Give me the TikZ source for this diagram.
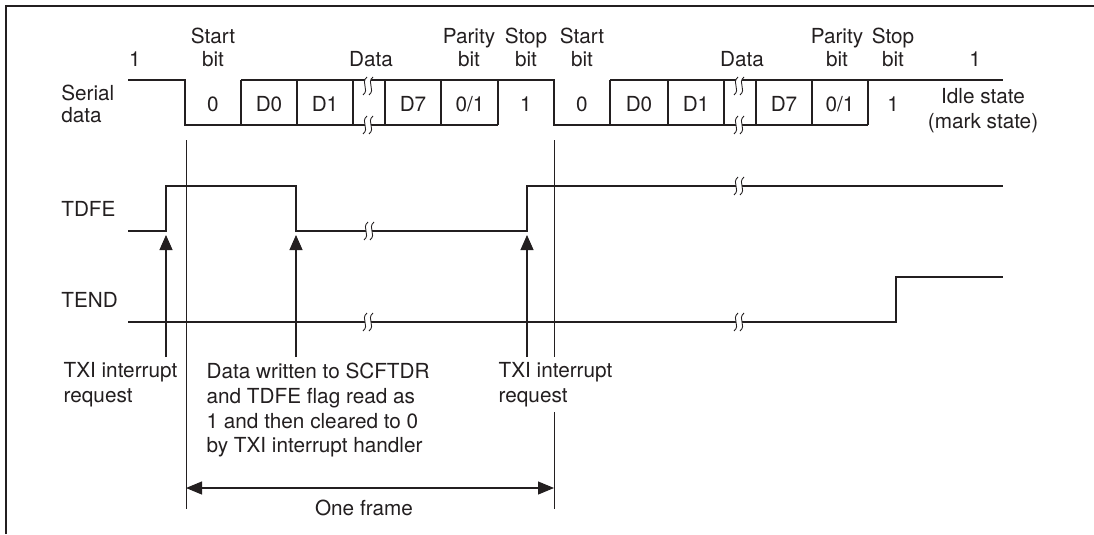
\documentclass[tikz,border=0pt]{standalone}
\usepackage{fontspec}
\setmainfont{TeX Gyre Heros}
\usepackage{tikz}
\usetikzlibrary{arrows.meta,positioning}
\usepackage{xcolor}
\definecolor{cInk}{RGB}{35,31,32}
\tikzset{
  sigline/.style={line width=0.7pt,color=cInk},
  gridline/.style={line width=0.5pt,color=cInk},
  frameline/.style={line width=1.4pt,color=cInk},
  lbl/.style={inner sep=0pt,align=center,text=cInk,
              font=\fontsize{11.8}{13}\selectfont},
  signame/.style={inner sep=0pt,align=left,text=cInk,
                  font=\fontsize{11.8}{12.6}\selectfont},
  bitval/.style={inner sep=0pt,anchor=base,text=cInk,
                 font=\fontsize{11.8}{13}\selectfont},
  note/.style={inner sep=3pt,fill=white,align=left,anchor=north west,
               text=cInk,font=\fontsize{11.8}{14.2}\selectfont},
  arr/.style={-{Triangle[length=0.3cm,width=0.26cm]},line width=0.6pt,
              color=cInk,shorten >=0.08cm},
  dblarr/.style={{Triangle[length=0.32cm,width=0.26cm]}-{Triangle[length=0.32cm,width=0.26cm]},
                 line width=0.6pt,color=cInk},
  brkmark/.pic={
    \fill[white] (-1,-9) .. controls (-8,-3) and (2,3) .. (-5,9) -- (1,9)
                 .. controls (8,3) and (-2,-3) .. (5,-9) -- cycle;
    \draw[line width=0.5pt,color=cInk]
        (-1,-9) .. controls (-8,-3) and (2,3) .. (-5,9)
        (5,-9) .. controls (-2,-3) and (8,3) .. (1,9);
  }
}

\begin{document}
\begin{tikzpicture}[x=0.02cm,y=-0.02cm]
  \useasboundingbox (0,0) rectangle (1094,534);

  \draw[frameline] (6,534) -- (6,6) -- (1094,6);

  % signal names
  \node[signame,anchor=north west] (sd) at (61,85) {Serial\\data};
  \node[signame,anchor=base west] (tdfe) at (61,216) {TDFE};
  \node[signame,anchor=base west] (tend) at (61,307) {TEND};
  \node[lbl,anchor=north,font=\fontsize{11.8}{14.2}\selectfont] (idle) at (983,88)
      {Idle state\\(mark state)};

  % field labels
  \foreach \x/\t/\n in {135/1/one1,213/{Start\\bit}/start1,371/Data/data1,
                        469/{Parity\\bit}/par1,526/{Stop\\bit}/stop1,
                        582/{Start\\bit}/start2,742/Data/data2,
                        837/{Parity\\bit}/par2,893/{Stop\\bit}/stop2,975/1/one2}
    \node[lbl,anchor=south] (\n) at (\x,67) {\t};

  % serial data
  \draw[sigline] (128,80) -- (185,80) -- (185,125) -- (498,125);
  \draw[sigline] (241,80) -- (554,80) -- (554,125) -- (868,125);
  \draw[sigline] (610,80) -- (1003,80);
  \foreach \x in {241,297,353,385,441,498,610,668,724,756,812,868}
    \draw[sigline] (\x,80) -- (\x,125);
  \foreach \x/\t [count=\i] in {213/0,269/D0,325/D1,413/D7,470/{0/1},526/1,
                                582/0,639/D0,696/D1,784/D7,840/{0/1},893/1}
    \node[bitval] (b\i) at (\x,111) {\t};

  % TDFE and TEND
  \draw[sigline] (128,231) -- (166,231) -- (166,186) -- (296,186) -- (296,231)
                 -- (527,231) -- (527,186) -- (1003,186);
  \draw[sigline] (128,322) -- (896,322) -- (896,277) -- (1003,277);

  \pic at (368,86) {brkmark};
  \pic at (368,125) {brkmark};
  \pic at (739,86) {brkmark};
  \pic at (739,125) {brkmark};
  \pic at (369,231) {brkmark};
  \pic at (739,186) {brkmark};
  \pic at (368,322) {brkmark};
  \pic at (739,322) {brkmark};

  % frame limits
  \coordinate (flt) at (186,140);
  \coordinate (flb) at (186,509);
  \coordinate (frt) at (554,140);
  \coordinate (frb) at (554,509);
  \draw[gridline] (flt) -- (flb);
  \draw[gridline] (frt) -- (frb);

  % notes
  \node[note] (txi1) at (58,357) {TXI interrupt\\request};
  \node[note] (wr) at (201,357)
      {Data written to SCFTDR\\and TDFE flag read as\\1 and then cleared to 0\\by TXI interrupt handler};
  \node[note] (txi2) at (493,357) {TXI interrupt\\request};

  \coordinate (t1) at (166,231);
  \coordinate (t2) at (296,231);
  \coordinate (t3) at (527,231);
  \draw[arr] (txi1.north -| t1) -- (t1);
  \draw[arr] (wr.north -| t2) -- (t2);
  \draw[arr] (txi2.north -| t3) -- (t3);

  \coordinate (fa) at (186,488);
  \coordinate (fb) at (554,488);
  \draw[dblarr] (fa) -- (fb);
  \node[lbl,anchor=base] (frame) at (364,515) {One frame};

\end{tikzpicture}
\end{document}
